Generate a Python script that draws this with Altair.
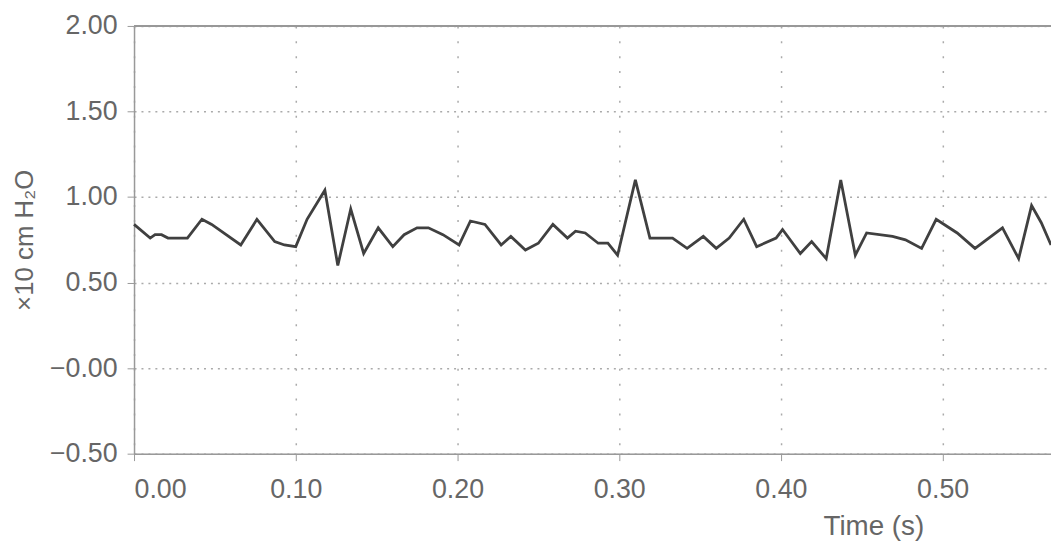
import altair as alt
import pandas as pd

times = [0.000, 0.010, 0.013, 0.017, 0.021, 0.033, 0.042, 0.048, 0.066, 0.076,
         0.087, 0.093, 0.100, 0.107, 0.118, 0.126, 0.134, 0.142, 0.151, 0.160,
         0.167, 0.175, 0.182, 0.191, 0.201, 0.208, 0.217, 0.227, 0.233, 0.242,
         0.250, 0.259, 0.268, 0.273, 0.279, 0.287, 0.293, 0.299, 0.310, 0.319,
         0.333, 0.342, 0.352, 0.360, 0.368, 0.377, 0.385, 0.397, 0.401, 0.412,
         0.419, 0.428, 0.437, 0.446, 0.453, 0.469, 0.477, 0.487, 0.496, 0.509,
         0.520, 0.537, 0.547, 0.555, 0.561, 0.567]
values = [0.84, 0.76, 0.78, 0.78, 0.76, 0.76, 0.87, 0.84, 0.72, 0.87,
          0.74, 0.72, 0.71, 0.87, 1.04, 0.60, 0.93, 0.67, 0.82, 0.71,
          0.78, 0.82, 0.82, 0.78, 0.72, 0.86, 0.84, 0.72, 0.77, 0.69,
          0.73, 0.84, 0.76, 0.80, 0.79, 0.73, 0.73, 0.66, 1.10, 0.76,
          0.76, 0.70, 0.77, 0.70, 0.76, 0.87, 0.71, 0.76, 0.81, 0.67,
          0.74, 0.64, 1.10, 0.66, 0.79, 0.77, 0.75, 0.70, 0.87, 0.79,
          0.70, 0.82, 0.64, 0.95, 0.85, 0.72]
x_ticks = [0.0, 0.1, 0.2, 0.3, 0.4, 0.5]
y_ticks = [-0.5, 0.0, 0.5, 1.0, 1.5, 2.0]

df = pd.DataFrame({"t": times, "p": values})

FONT = "Liberation Sans"
GREY = "#666666"

x_enc = alt.X("t:Q", scale=alt.Scale(domain=[0, 0.567], nice=False, zero=False),
              axis=alt.Axis(values=x_ticks, format=".2f", title="Time (s)",
                            titleX=745, titleY=73,
                            titleAlign="center", titleBaseline="middle"))
y_enc = alt.Y("p:Q", scale=alt.Scale(domain=[-0.5, 2.0], nice=False, zero=False),
              axis=alt.Axis(values=y_ticks, title="×10 cm H₂O",
                            labelExpr="datum.value == 0 ? '\u22120.00' : format(datum.value, '.2f')"))

line = alt.Chart(df).mark_line(color="#404040", strokeWidth=2.8).encode(x=x_enc, y=y_enc)
top = alt.Chart(df).mark_rule(color="#999999", strokeWidth=1.5).encode(y=alt.datum(2.0))

chart = alt.layer(line, top).properties(
    width=924, height=431,
    autosize=alt.AutoSizeParams(type="none"),
    padding={"left": 127, "top": 16, "right": 0, "bottom": 96},
).configure_view(stroke=None).configure(background="white").configure_axis(
    grid=True, gridColor="#aaaaaa", gridWidth=1.5,
    domainColor="#999999", domainWidth=1.5,
    tickColor="#999999", tickSize=7,
    labelFont=FONT, labelFontSize=27, labelColor=GREY,
    titleFont=FONT, titleColor=GREY, titleFontWeight="normal",
).configure_axisX(
    gridDash=[2, 13], labelPadding=16, titleFontSize=28,
).configure_axisY(
    gridDash=[2, 5], labelPadding=10, titleFontSize=26, titlePadding=12,
)

chart.save("out.html", embed_options={"renderer": "svg", "actions": False})
